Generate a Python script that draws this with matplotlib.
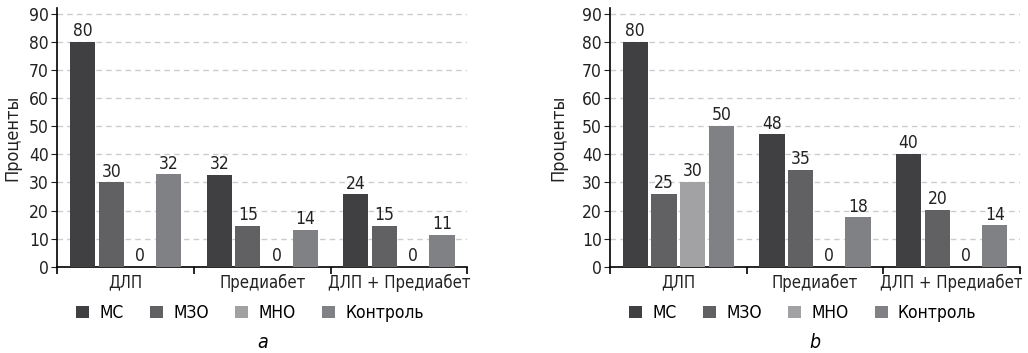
import matplotlib
matplotlib.use('Agg')
import matplotlib.pyplot as plt
import numpy as np

plt.rcParams['font.family'] = ['DejaVu Sans']
plt.rcParams['font.stretch'] = 'condensed'

groups = ['ДЛП', 'Предиабет', 'ДЛП + Предиабет']
series = ['МС', 'МЗО', 'МНО', 'Контроль']
colors = ['#404042', '#616163', '#a2a2a4', '#808184']

# bar heights as drawn, and the numbers printed above them
a_heights = [[80, 32.6, 25.8], [30, 14.5, 14.5], [0, 0, 0], [32.9, 13.1, 11.3]]
a_labels = [[80, 32, 24], [30, 15, 15], [0, 0, 0], [32, 14, 11]]
b_heights = [[80, 47.1, 40.1], [25.9, 34.5, 20.2], [30.2, 0, 0], [50.2, 17.6, 14.7]]
b_labels = [[80, 48, 40], [25, 35, 20], [30, 0, 0], [50, 18, 14]]

fig = plt.figure(figsize=(10.28, 3.53), dpi=100)


def draw_panel(left, heights, labels, caption):
    ax = fig.add_axes([left, 0.2445, 0.3988, 0.7318])
    x = np.arange(len(groups)) + 0.5
    step, width = 0.21, 0.184
    for i, name in enumerate(series):
        pos = x + (i - 1.5) * step
        ax.bar(pos, heights[i], width, color=colors[i], label=name, zorder=3)
        for p, h, lab in zip(pos, heights[i], labels[i]):
            ax.text(p, h + 0.6, str(lab), ha='center', va='bottom', fontsize=12.5, color='#222222')
    ax.set_xlim(0, 3)
    ax.set_ylim(0, 92)
    ax.set_yticks(range(0, 91, 10))
    ax.tick_params(axis='y', labelsize=12.5, length=4, pad=2, colors='#222222')
    ax.set_xticks([0, 1, 2, 3])
    ax.set_xticklabels([])
    ax.set_xticks(x, minor=True)
    ax.set_xticklabels(groups, minor=True, fontsize=12)
    ax.tick_params(axis='x', which='major', length=5, width=1.2, direction='out')
    ax.tick_params(axis='x', which='minor', length=0, pad=5, colors='#222222')
    for g in range(10, 91, 10):
        ax.axhline(g, color='#cccccc', linestyle=(0, (4, 3)), linewidth=1, zorder=1)
    ax.spines['top'].set_visible(False)
    ax.spines['right'].set_visible(False)
    ax.spines['left'].set_linewidth(1.2)
    ax.spines['bottom'].set_linewidth(1.2)
    ax.set_ylabel('Проценты', fontsize=13, color='#222222')
    ax.legend(loc='center', bbox_to_anchor=(0.47, -0.18), ncol=4, frameon=False,
              fontsize=12.5, handlelength=0.75, handleheight=0.75, columnspacing=1.5,
              handletextpad=0.6, borderpad=0)
    ax.text(0.5, -0.295, caption, transform=ax.transAxes, ha='center', va='center',
            fontsize=14, style='italic')
    return ax


ax_a = draw_panel(0.0557, a_heights, a_labels, 'a')
ax_b = draw_panel(0.5934, b_heights, b_labels, 'b')
ax_a.yaxis.set_label_coords(-0.088, 0.5)
ax_b.yaxis.set_label_coords(-0.105, 0.5)

fig.savefig('out.png', dpi=100)
